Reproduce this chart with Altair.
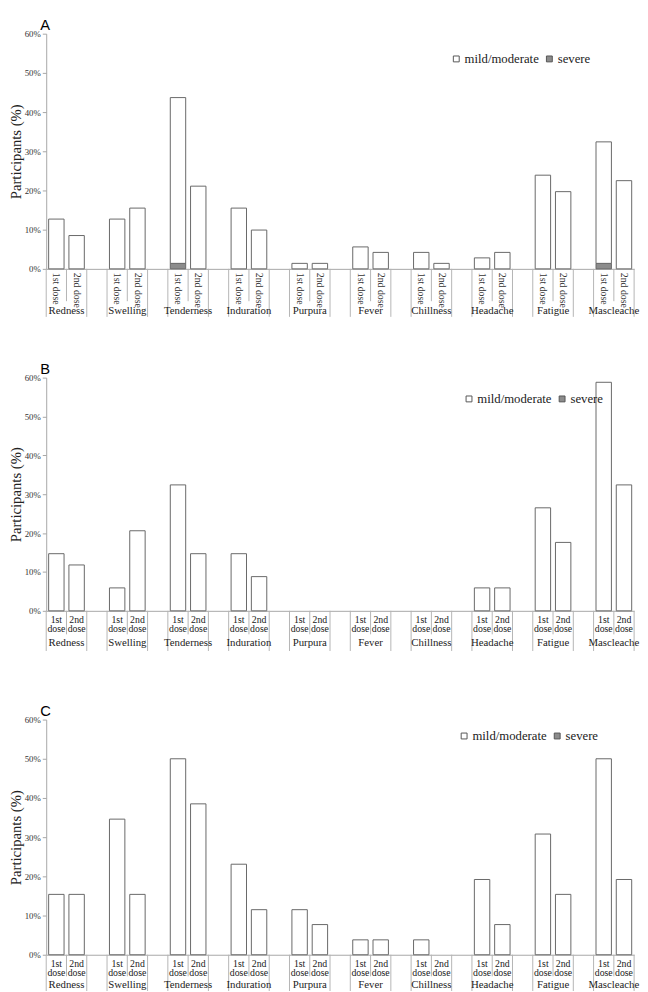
import altair as alt
import pandas as pd

categories = ["Redness", "Swelling", "Tenderness", "Induration", "Purpura",
              "Fever", "Chillness", "Headache", "Fatigue", "Mascleache"]
doses = ["1st dose", "2nd dose"]
severities = ["mild/moderate", "severe"]

# Panel A (% participants)
A_first_mild = [12.7, 12.7, 42.3, 15.5, 1.4, 5.6, 4.2, 2.8, 23.9, 31.0]
A_first_severe = [0, 0, 1.4, 0, 0, 0, 0, 0, 0, 1.4]
A_second_mild = [8.5, 15.5, 21.1, 9.9, 1.4, 4.2, 1.4, 4.2, 19.7, 22.5]
A_second_severe = [0, 0, 0, 0, 0, 0, 0, 0, 0, 0]

# Panel B
B_first_mild = [14.7, 5.9, 32.4, 14.7, 0, 0, 0, 5.9, 26.5, 58.8]
B_first_severe = [0, 0, 0, 0, 0, 0, 0, 0, 0, 0]
B_second_mild = [11.8, 20.6, 14.7, 8.8, 0, 0, 0, 5.9, 17.6, 32.4]
B_second_severe = [0, 0, 0, 0, 0, 0, 0, 0, 0, 0]

# Panel C
C_first_mild = [15.4, 34.6, 50.0, 23.1, 11.5, 3.8, 3.8, 19.2, 30.8, 50.0]
C_first_severe = [0, 0, 0, 0, 0, 0, 0, 0, 0, 0]
C_second_mild = [15.4, 15.4, 38.5, 11.5, 7.7, 3.8, 0, 7.7, 15.4, 19.2]
C_second_severe = [0, 0, 0, 0, 0, 0, 0, 0, 0, 0]

y_ticks = [0, 10, 20, 30, 40, 50, 60]

SERIF = "Liberation Serif"
W = 600
NSLOTS = len(categories) * 3 - 1

xs = alt.Scale(domain=[0, NSLOTS], nice=False, zero=False)
ys = alt.Scale(domain=[0, 60], nice=False)
x_axis = alt.Axis(labels=False, ticks=False, grid=False, domain=True,
                  domainColor="#a6a6a6", title=None)


def bar_frame(fm, fs, sm, ss):
    rows = []
    for g, cat in enumerate(categories):
        for d, (m, s) in enumerate([(fm[g], fs[g]), (sm[g], ss[g])]):
            slot = g * 3 + d
            if s > 0:
                rows.append(dict(category=cat, dose=doses[d], slot=slot,
                                 severity="severe", lo=0.0, hi=s))
            if m > 0:
                rows.append(dict(category=cat, dose=doses[d], slot=slot,
                                 severity="mild/moderate", lo=s, hi=s + m))
    return pd.DataFrame(rows)


label_df = pd.DataFrame([
    dict(slot=g * 3 + d, label=doses[d], label2=doses[d].replace(" ", "\n"))
    for g in range(len(categories)) for d in range(2)
])
group_df = pd.DataFrame([dict(category=c, center=g * 3 + 1) for g, c in enumerate(categories)])
long_sep = pd.DataFrame({"pos": [g * 3 + k for g in range(len(categories)) for k in (0, 2)]})
mid_sep = pd.DataFrame({"pos": [g * 3 + 1 for g in range(len(categories))]})


def panel(letter, df, H, rotated, lx, ly, mid_len, long_len, grp_y):
    bars = alt.Chart(df).transform_calculate(
        x0="datum.slot + 0.12", x1="datum.slot + 0.88"
    ).mark_bar(stroke="#666666", strokeWidth=1).encode(
        x=alt.X("x0:Q", scale=xs, axis=x_axis),
        x2="x1:Q",
        y=alt.Y("hi:Q", scale=ys, title="Participants (%)",
                axis=alt.Axis(values=y_ticks, labelExpr="datum.value + '%'",
                              labelOverlap=False,
                              labelFont=SERIF, labelFontSize=9, labelColor="#333333",
                              tickColor="#a6a6a6", tickSize=4, domainColor="#a6a6a6",
                              grid=False, titleFont=SERIF, titleFontSize=15,
                              titleFontWeight="normal", titleColor="#222222",
                              titlePadding=1, labelPadding=2)),
        y2="lo:Q",
        color=alt.Color("severity:N",
                        scale=alt.Scale(domain=severities, range=["#ffffff", "#8c8c8c"]),
                        legend=alt.Legend(orient="none", legendX=lx, legendY=ly,
                                          direction="horizontal", title=None,
                                          symbolType="square", symbolSize=36,
                                          symbolStrokeColor="#555555", symbolStrokeWidth=1,
                                          labelFont=SERIF, labelFontSize=13,
                                          labelColor="#222222", columnPadding=4,
                                          labelOffset=2)),
    )
    seps_long = alt.Chart(long_sep).mark_rule(color="#b4b4b4").encode(
        x=alt.X("pos:Q", scale=xs, axis=x_axis), y=alt.value(H), y2=alt.value(H + long_len))
    seps_mid = alt.Chart(mid_sep).mark_rule(color="#b4b4b4").encode(
        x=alt.X("pos:Q", scale=xs, axis=x_axis), y=alt.value(H), y2=alt.value(H + mid_len))
    if rotated:
        labels = alt.Chart(label_df).transform_calculate(xc="datum.slot + 0.5").mark_text(
            angle=90, align="left", baseline="middle", font=SERIF, fontSize=10,
            color="#333333").encode(
            x=alt.X("xc:Q", scale=xs, axis=x_axis), y=alt.value(H + 4), text="label:N")
    else:
        labels = alt.Chart(label_df).transform_calculate(xc="datum.slot + 0.5").mark_text(
            align="center", baseline="top", font=SERIF, fontSize=10, lineBreak="\n",
            lineHeight=10, color="#222222").encode(
            x=alt.X("xc:Q", scale=xs, axis=x_axis), y=alt.value(H + 4), text="label2:N")
    groups = alt.Chart(group_df).mark_text(
        align="center", baseline="middle", font=SERIF, fontSize=11,
        color="#222222").encode(
        x=alt.X("center:Q", scale=xs, axis=x_axis), y=alt.value(H + grp_y), text="category:N")
    letter_mark = alt.Chart(pd.DataFrame({"t": [letter]})).mark_text(
        align="left", baseline="top", font="Liberation Sans", fontSize=15,
        color="#000000").encode(x=alt.value(-6), y=alt.value(-16), text="t:N")
    return alt.layer(bars, seps_long, seps_mid, labels, groups, letter_mark).properties(
        width=W, height=H)


pA = panel("A", bar_frame(A_first_mild, A_first_severe, A_second_mild, A_second_severe),
           240, True, 412, 19, 33, 49, 43)
pB = panel("B", bar_frame(B_first_mild, B_first_severe, B_second_mild, B_second_severe),
           238, False, 425, 15, 24, 41, 33)
pC = panel("C", bar_frame(C_first_mild, C_first_severe, C_second_mild, C_second_severe),
           240, False, 420, 10, 22, 37, 31)

chart = alt.vconcat(pA, pB, pC, spacing=111, bounds="flush").resolve_scale(
    color="independent").properties(padding=0).configure_view(stroke=None).configure_legend(
    labelFont=SERIF).configure_axis(labelFont=SERIF, labelColor="#333333")

chart.save("out.html", embed_options={"renderer": "svg", "actions": False})
